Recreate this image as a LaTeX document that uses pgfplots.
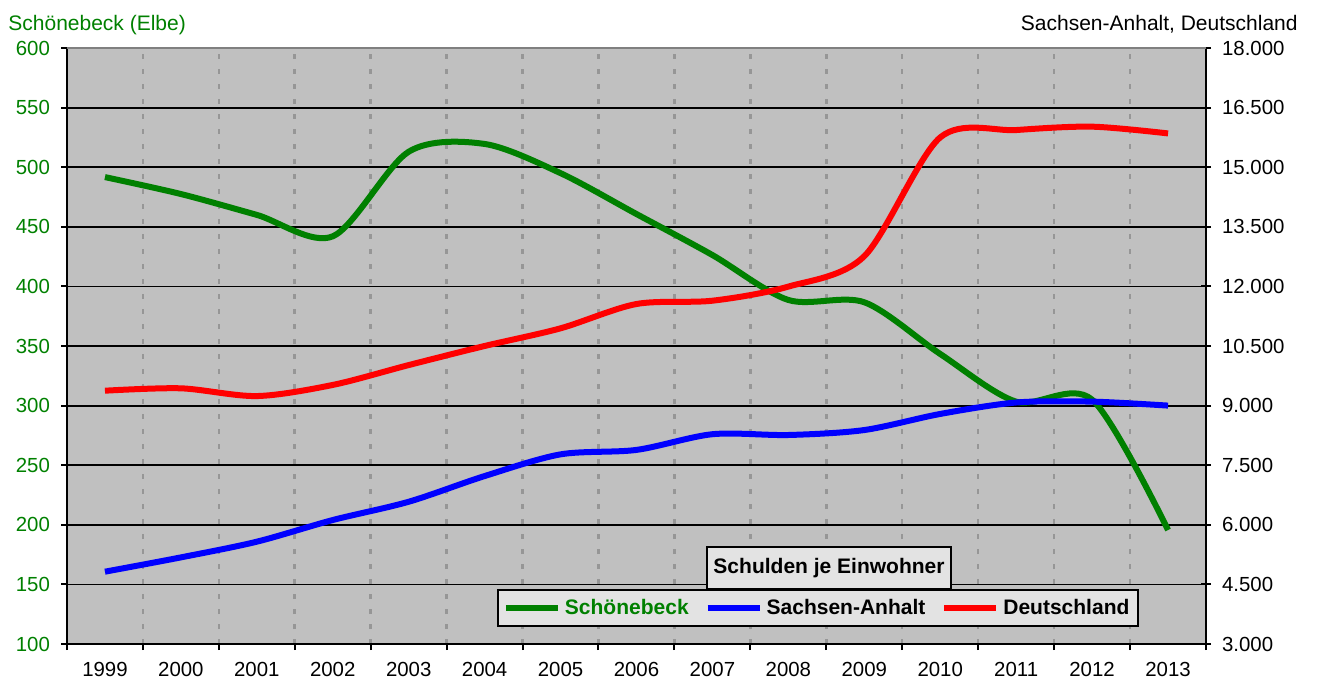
\documentclass[border=0pt]{standalone}
\usepackage{fontspec}
\setmainfont{Liberation Sans}
\usepackage{pgfplots}
\pgfplotsset{compat=1.18}
\definecolor{sgreen}{HTML}{008000}
\definecolor{sblue}{HTML}{0000FF}
\definecolor{sred}{HTML}{FF0000}
\definecolor{plotbg}{HTML}{C0C0C0}
\definecolor{legbg}{HTML}{E3E3E3}
\definecolor{gridgray}{HTML}{969696}
\begin{document}
\begin{tikzpicture}
\useasboundingbox (0,0) rectangle (658.5pt,343pt);
\pgfplotsset{
  base/.style={
    scale only axis, width=569.5pt, height=298pt,
    at={(33.5pt,21pt)}, anchor=south west,
    xmin=1998.5, xmax=2013.5,
    /pgf/number format/assume math mode=true,
    tick label style={font=\fontsize{10.2}{12}\selectfont},
    every axis plot/.append style={line width=3pt, smooth, tension=0.5, no markers},
  }
}
% background + horizontal grid
\begin{axis}[base,
  axis background/.style={fill=plotbg},
  axis line style={draw=none},
  ymin=100, ymax=600,
  ytick={100,150,...,600}, yticklabels={},
  xtick=\empty,
  major tick length=0pt,
  ymajorgrids, major grid style={black, line width=0.9pt},
]
\end{axis}
% left axis, vertical grid, green series
\begin{axis}[base,
  axis x line*=bottom, axis y line*=left,
  axis line style={line width=1pt, black, -},
  tick style={black, line width=1pt},
  tick align=outside, major tick length=3pt,
  ymin=100, ymax=600,
  ytick={100,150,...,600},
  yticklabel style={text=sgreen, xshift=-2pt},
  xtick={1998.5,1999.5,...,2013.5},
  xticklabels={},
  xmajorgrids,
  major grid style={gridgray, line width=1.3pt, dash pattern=on 2.5pt off 5pt},
  extra x ticks={1999,2000,...,2013},
  extra x tick labels={1999,2000,2001,2002,2003,2004,2005,2006,2007,2008,2009,2010,2011,2012,2013},
  extra x tick style={major tick length=0pt, grid=none, xticklabel style={yshift=-5.5pt}},
]
\addplot[sgreen] coordinates {
(1999,491.7) (2000,477.5) (2001,460) (2002,442) (2003,513) (2004,519.5)
(2005,495) (2006,460.7) (2007,426.3) (2008,388.6) (2009,386.7) (2010,343.3)
(2011,303.3) (2012,305) (2013,195.6)};
\end{axis}
% right axis
\begin{axis}[base,
  axis x line=none, axis y line*=right,
  axis line style={line width=1pt, black, -},
  tick style={black, line width=1pt},
  tick align=center, major tick length=5pt,
  ymin=3000, ymax=18000,
  ytick={3000,4500,...,18000},
  scaled y ticks=false,
  yticklabel style={xshift=2pt, /pgf/number format/fixed, /pgf/number format/1000 sep={.}},
  legend columns=3,
  legend cell align=left,
  legend image code/.code={\draw[#1, line width=3pt] (0pt,0pt) -- (26pt,0pt);},
  legend style={at={(0.3775,0.0285)}, anchor=south west, draw=black, line width=1pt,
    fill=legbg, font=\bfseries\fontsize{10.5}{12}\selectfont,
    inner xsep=2.5pt, inner ysep=2.5pt,
    /tikz/every even column/.append style={column sep=6pt}},
]
\addlegendimage{sgreen, line width=3pt}
\addlegendentry{\textcolor{sgreen}{Schönebeck}}
\addplot[sblue] coordinates {
(1999,4820) (2000,5180) (2001,5575) (2002,6120) (2003,6580) (2004,7227)
(2005,7773) (2006,7885) (2007,8280) (2008,8260) (2009,8385) (2010,8790)
(2011,9078) (2012,9100) (2013,9000)};
\addlegendentry{Sachsen-Anhalt}
\addplot[sred] coordinates {
(1999,9375) (2000,9435) (2001,9240) (2002,9520) (2003,10020) (2004,10500)
(2005,10945) (2006,11557) (2007,11640) (2008,11995) (2009,12760) (2010,15750)
(2011,15935) (2012,16020) (2013,15850)};
\addlegendentry{Deutschland}
\draw[gray, line width=1pt] (rel axis cs:0,1) -- (rel axis cs:1,1);
\node[draw=black, line width=1pt, fill=legbg, font=\bfseries\fontsize{10.5}{12}\selectfont,
  inner xsep=3pt, minimum height=21pt, anchor=south] at (rel axis cs:0.669,0.0906) {Schulden je Einwohner};
\end{axis}
\node[anchor=base west, text=sgreen, font=\fontsize{10.5}{12}\selectfont, inner sep=0pt] at (4pt,327.5pt) {Schönebeck (Elbe)};
\node[anchor=base east, font=\fontsize{10.5}{12}\selectfont, inner sep=0pt] at (649pt,327.5pt) {Sachsen-Anhalt, Deutschland};
\end{tikzpicture}
\end{document}
